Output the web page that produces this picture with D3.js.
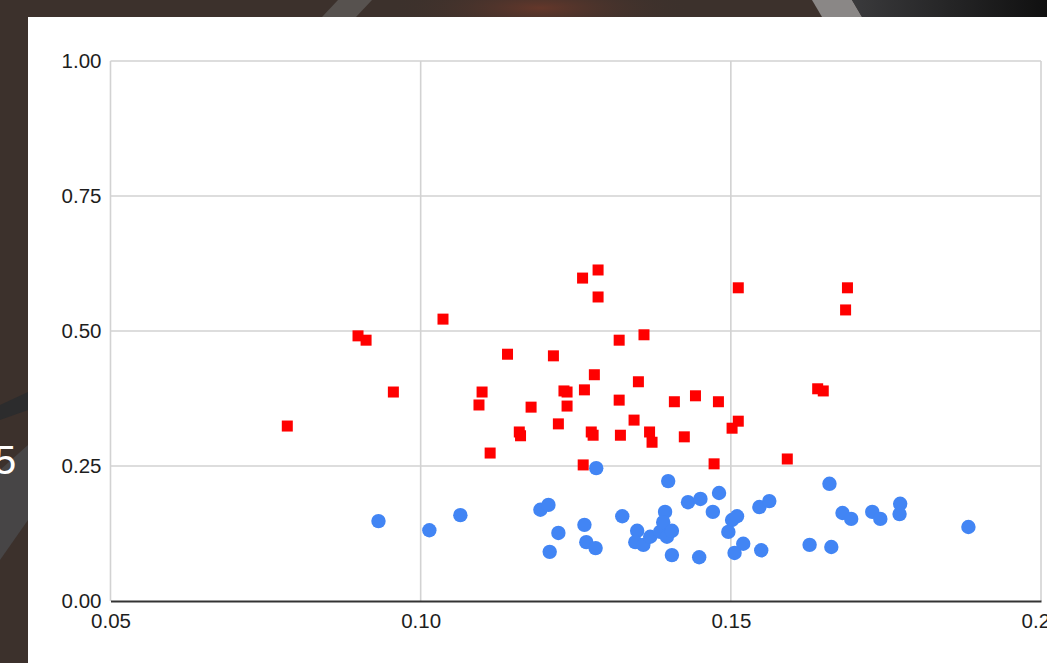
<!DOCTYPE html>
<html>
<head>
<meta charset="utf-8">
<script src="https://cdn.jsdelivr.net/npm/d3@7"></script>
<style>
  html, body { margin: 0; padding: 0; background: #3c312c; overflow: hidden; }
  svg { display: block; }
  text { font-family: "Liberation Sans", Arial, Helvetica, sans-serif; }
</style>
</head>
<body>
<svg id="chart" width="1047" height="663"></svg>
<script>
// ---- data ----
const redX = [0.0785,0.0899,0.0912,0.0956,0.1036,0.1094,0.1099,0.1112,0.1140,0.1159,0.1161,0.1178,0.1214,0.1222,0.1231,0.1236,0.1236,0.1261,0.1262,0.1264,0.1275,0.1278,0.1280,0.1286,0.1286,0.1320,0.1320,0.1322,0.1344,0.1351,0.1360,0.1369,0.1373,0.1409,0.1425,0.1443,0.1473,0.1480,0.1502,0.1512,0.1512,0.1591,0.1640,0.1649,0.1685,0.1688];
const redY = [0.324,0.491,0.483,0.387,0.522,0.363,0.387,0.274,0.457,0.313,0.306,0.359,0.454,0.328,0.389,0.387,0.361,0.598,0.252,0.391,0.313,0.307,0.419,0.613,0.563,0.483,0.372,0.307,0.335,0.406,0.493,0.313,0.294,0.369,0.304,0.380,0.254,0.369,0.320,0.333,0.580,0.263,0.393,0.389,0.539,0.580];
const blueX = [0.0932,0.1014,0.1064,0.1193,0.1206,0.1222,0.1208,0.1264,0.1267,0.1282,0.1283,0.1325,0.1349,0.1346,0.1359,0.1370,0.1386,0.1394,0.1391,0.1397,0.1405,0.1399,0.1405,0.1431,0.1451,0.1471,0.1481,0.1449,0.1502,0.1510,0.1496,0.1520,0.1506,0.1546,0.1562,0.1549,0.1627,0.1659,0.1662,0.1680,0.1694,0.1728,0.1741,0.1773,0.1772,0.1883];
const blueY = [0.148,0.131,0.159,0.169,0.178,0.126,0.091,0.141,0.109,0.098,0.246,0.157,0.130,0.109,0.104,0.119,0.128,0.165,0.146,0.119,0.130,0.222,0.085,0.183,0.189,0.165,0.200,0.081,0.150,0.157,0.128,0.106,0.089,0.174,0.185,0.094,0.104,0.217,0.100,0.163,0.152,0.165,0.152,0.180,0.161,0.137];
const xTicks = [0.05, 0.10, 0.15, 0.20];
const yTicks = [0.00, 0.25, 0.50, 0.75, 1.00];

const red = redX.map((x, i) => ({x, y: redY[i]}));
const blue = blueX.map((x, i) => ({x, y: blueY[i]}));

const svg = d3.select("#chart");

// ---- background decoration ----
const defs = svg.append("defs");
const glow = defs.append("radialGradient").attr("id", "glow").attr("cx", "50%").attr("cy", "50%").attr("r", "50%");
glow.append("stop").attr("offset", "0%").attr("stop-color", "#65372a");
glow.append("stop").attr("offset", "100%").attr("stop-color", "#3c312c").attr("stop-opacity", 0);
const dark = defs.append("linearGradient").attr("id", "darkr").attr("x1", "0").attr("x2", "1");
dark.append("stop").attr("offset", "0%").attr("stop-color", "#3a3a3c");
dark.append("stop").attr("offset", "100%").attr("stop-color", "#101010");

svg.append("rect").attr("width", 1047).attr("height", 663).attr("fill", "#3c312c");
svg.append("ellipse").attr("cx", 540).attr("cy", 8).attr("rx", 150).attr("ry", 30).attr("fill", "url(#glow)");
svg.append("polygon").attr("points", "322,17 338,0 372,0 356,17").attr("fill", "#57524f");
svg.append("polygon").attr("points", "812,0 852,0 862,17 822,17").attr("fill", "#8a8786");
svg.append("polygon").attr("points", "852,0 1047,0 1047,17 862,17").attr("fill", "url(#darkr)");
svg.append("polygon").attr("points", "0,405 28,392 28,410 0,420").attr("fill", "#2c2c2d");
svg.append("polygon").attr("points", "0,470 28,445 28,520 0,560").attr("fill", "#474546");
svg.append("text").attr("x", -6).attr("y", 474).attr("fill", "#ffffff")
  .style("font-size", "40px").text("5");

// ---- panel ----
svg.append("rect").attr("x", 28).attr("y", 17).attr("width", 1047 - 28).attr("height", 663 - 17)
  .attr("fill", "#ffffff");

// ---- scales ----
const x = d3.scaleLinear().domain([0.05, 0.20]).range([110.5, 1041]);
const y = d3.scaleLinear().domain([0, 1]).range([601, 61]);

// gridlines
const g = svg.append("g");
g.selectAll("line.vg").data(xTicks).join("line").attr("class", "vg")
  .attr("x1", d => x(d)).attr("x2", d => x(d)).attr("y1", y(1)).attr("y2", y(0))
  .attr("stroke", "#d2d2d2").attr("stroke-width", 1.6);
g.selectAll("line.hg").data(yTicks.filter(d => d > 0)).join("line").attr("class", "hg")
  .attr("x1", x(0.05)).attr("x2", x(0.20)).attr("y1", d => y(d)).attr("y2", d => y(d))
  .attr("stroke", "#d2d2d2").attr("stroke-width", 1.6);

// baseline axis
const xAxis = d3.axisBottom(x).tickValues(xTicks).tickSize(0).tickPadding(12)
  .tickFormat(d3.format(".2f"));
const xg = svg.append("g").attr("transform", `translate(0,${y(0)})`).call(xAxis);
xg.select(".domain").attr("stroke", "#333333").attr("stroke-width", 1.8);
xg.selectAll("text").attr("fill", "#1e1e1e").style("font-size", "20.5px")
  .attr("dy", "0.32em").attr("y", 20);

const yAxis = d3.axisLeft(y).tickValues(yTicks).tickSize(0).tickPadding(9)
  .tickFormat(d3.format(".2f"));
const yg = svg.append("g").attr("transform", `translate(${x(0.05)},0)`).call(yAxis);
yg.select(".domain").remove();
yg.selectAll("text").attr("fill", "#1e1e1e").style("font-size", "20.5px");

// points
svg.append("g").selectAll("rect").data(red).join("rect")
  .attr("x", d => x(d.x) - 5.5).attr("y", d => y(d.y) - 5.5)
  .attr("width", 11).attr("height", 11).attr("fill", "#ff0000");
svg.append("g").selectAll("circle").data(blue).join("circle")
  .attr("cx", d => x(d.x)).attr("cy", d => y(d.y)).attr("r", 7.2)
  .attr("fill", "#4285f4");
</script>
</body>
</html>
